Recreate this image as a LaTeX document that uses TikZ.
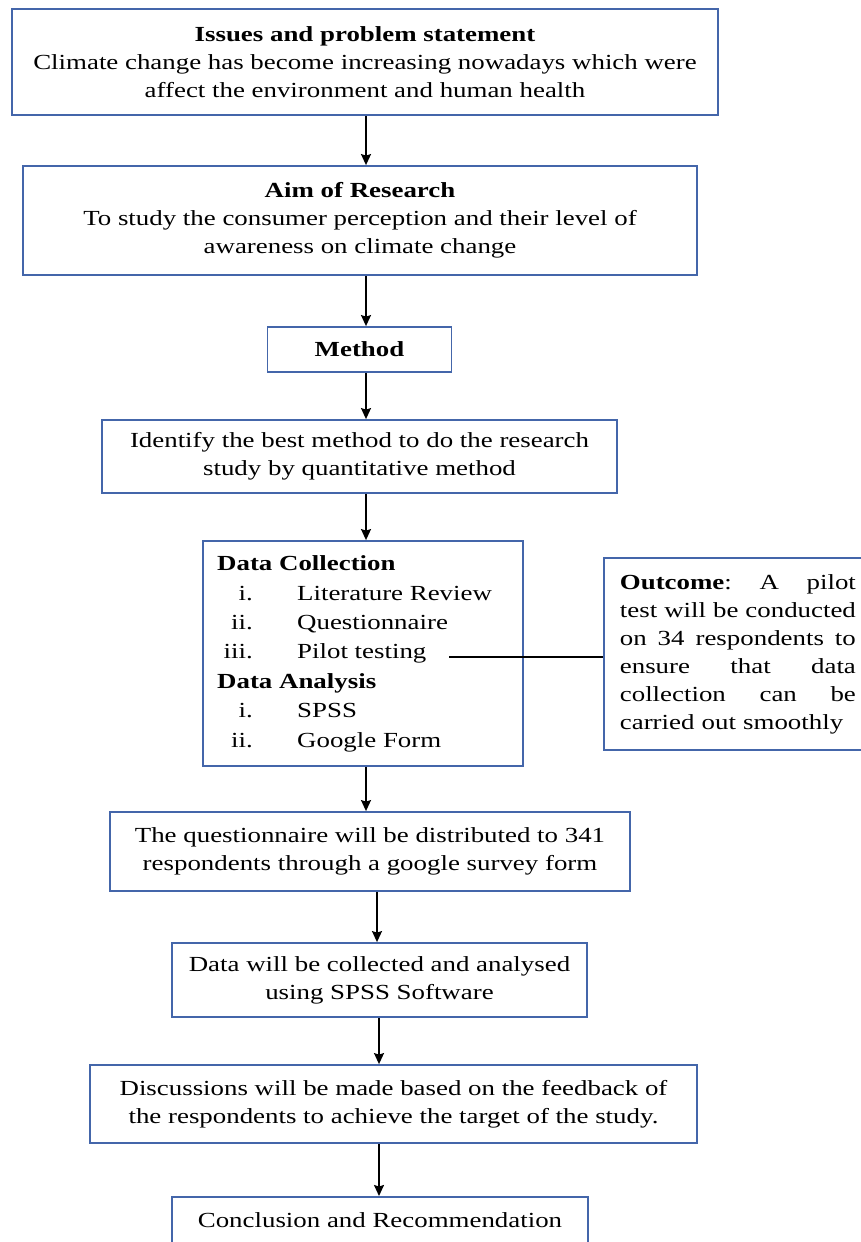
\documentclass[tikz,border=0pt]{standalone}
\usepackage{fontspec}
\setmainfont[FakeStretch=1.25]{Liberation Serif}
\usetikzlibrary{arrows.meta}
\definecolor{bbord}{RGB}{68,102,170}
\newcommand\jline[1]{\leavevmode\hbox to 236pt{#1}}
\begin{document}
\begin{tikzpicture}[x=1pt,y=-1pt,
  box/.style={draw=bbord,line width=1.8pt,inner sep=0pt,align=center,font=\fontsize{21.5}{28}\selectfont},
  txt/.style={inner sep=0pt,font=\fontsize{21.5}{28}\selectfont},
  arr/.style={-{Stealth[length=11pt,width=10pt,inset=1.5pt]},line width=1.6pt}]
\clip (0,0) rectangle (861,1242);
\fill[white] (0,0) rectangle (861,1242);
\node[box,minimum width=706pt,minimum height=106pt] (b1) at (365,62)
  {\textbf{Issues and problem statement}\\Climate change has become increasing nowadays which were\\affect the environment and human health};
\node[box,minimum width=674pt,minimum height=109pt] (b2) at (360,220.5)
  {\textbf{Aim of Research}\\To study the consumer perception and their level of\\awareness on climate change};
\node[box,minimum width=184pt,minimum height=45pt] (b3) at (359.5,349.5) {\textbf{Method}};
\node[box,minimum width=515pt,minimum height=73pt] (b4) at (359.5,456.5)
  {Identify the best method to do the research\\study by quantitative method};
\node[box,minimum width=320pt,minimum height=225pt] (b5) at (363,653.5) {};
\node[txt,anchor=base west] (dc) at (217,570) {\textbf{Data Collection}};
\node[txt,anchor=base east] (n1) at (253,600) {i.};
\node[txt,anchor=base west] (t1) at (297,600) {Literature Review};
\node[txt,anchor=base east] (n2) at (253,629) {ii.};
\node[txt,anchor=base west] (t2) at (297,629) {Questionnaire};
\node[txt,anchor=base east] (n3) at (253,658) {iii.};
\node[txt,anchor=base west] (t3) at (297,658) {Pilot testing};
\node[txt,anchor=base west] (da) at (217,688) {\textbf{Data Analysis}};
\node[txt,anchor=base east] (n4) at (253,717) {i.};
\node[txt,anchor=base west] (t4) at (297,717) {SPSS};
\node[txt,anchor=base east] (n5) at (253,747) {ii.};
\node[txt,anchor=base west] (t5) at (297,747) {Google Form};
\node[box,anchor=north west,text width=236pt,inner xsep=16pt,minimum height=192pt,align=left] (out) at (603,557)
  {\jline{\textbf{Outcome}:\hfill A\hfill pilot}\\
   \jline{test\hfill will\hfill be\hfill conducted}\\
   \jline{on\hfill 34\hfill respondents\hfill to}\\
   \jline{ensure\hfill that\hfill data}\\
   \jline{collection\hfill can\hfill be}\\
   carried out smoothly};
\coordinate (pt) at (449,657);
\draw[line width=1.4pt] (pt) -- (pt -| out.west);
\node[box,minimum width=520pt,minimum height=79pt] (b6) at (370,851.5)
  {The questionnaire will be distributed to 341\\respondents through a google survey form};
\node[box,minimum width=415pt,minimum height=74pt] (b7) at (379.5,980)
  {Data will be collected and analysed\\using SPSS Software};
\node[box,minimum width=607pt,minimum height=78pt] (b8) at (393.5,1104)
  {Discussions will be made based on the feedback of\\the respondents to achieve the target of the study.};
\node[box,anchor=north,minimum width=416pt,inner ysep=16pt,text depth=50pt] (b9) at (380,1196)
  {Conclusion and Recommendation};
\draw[arr] (b1.south -| 366,0) -- (b2.north -| 366,0);
\draw[arr] (b2.south -| 366,0) -- (b3.north -| 366,0);
\draw[arr] (b3.south -| 366,0) -- (b4.north -| 366,0);
\draw[arr] (b4.south -| 366,0) -- (b5.north -| 366,0);
\draw[arr] (b5.south -| 366,0) -- (b6.north -| 366,0);
\draw[arr] (b6.south -| 377,0) -- (b7.north -| 377,0);
\draw[arr] (b7.south -| 379,0) -- (b8.north -| 379,0);
\draw[arr] (b8.south -| 379,0) -- (b9.north -| 379,0);
\end{tikzpicture}
\end{document}
